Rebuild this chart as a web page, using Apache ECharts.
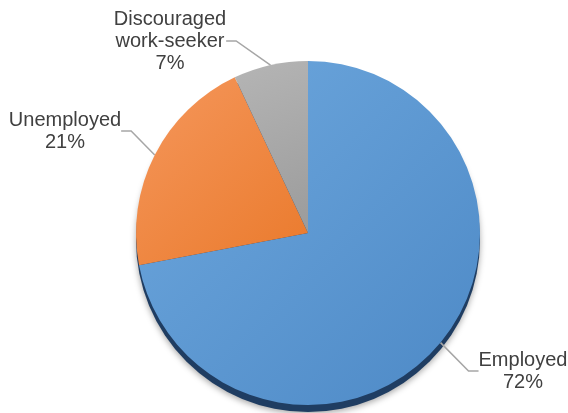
<!DOCTYPE html>
<html><head><meta charset="utf-8">
<script src="https://cdn.jsdelivr.net/npm/echarts@6/dist/echarts.min.js"></script>
<style>html,body{margin:0;padding:0;background:#fff}#c{width:568px;height:413px}</style>
</head><body><div id="c"></div>
<script>
// Data
const categories = ['Employed', 'Unemployed', 'Discouraged\nwork-seeker'];
const values = [72, 21, 7];

// Styles / layout (kept apart from data)
const gradients = [
  ['#6ea8de', '#4d89c6'],
  ['#f5975c', '#ea7a2c'],
  ['#b5b5b5', '#9b9b9b']
];
const labelCenters = [[523, 371], [65, 131], [170, 41]];
const CX = 308, CY = 233, R = 172;

const chart = echarts.init(document.getElementById('c'), null, {renderer: 'canvas'});
const grad = (c) => new echarts.graphic.LinearGradient(0, 0, 1, 1, [
  {offset: 0, color: c[0]}, {offset: 1, color: c[1]}
]);

chart.setOption({
  animation: false,
  backgroundColor: '#ffffff',
  series: [
    {
      type: 'pie', silent: true, z: 1,
      center: [CX, CY + 7], radius: R,
      label: {show: false}, labelLine: {show: false},
      itemStyle: {color: '#1f3d62', shadowColor: 'rgba(0,0,0,0.35)', shadowBlur: 6, shadowOffsetY: 2},
      data: [{value: 1}]
    },
    {
      type: 'pie', z: 2,
      center: [CX, CY], radius: R,
      startAngle: 90, clockwise: true,
      emphasis: {disabled: true},
      itemStyle: {borderWidth: 0},
      data: categories.map((name, i) => ({
        name: name, value: values[i],
        itemStyle: {color: grad(gradients[i])}
      })),
      label: {
        show: true,
        formatter: '{b}\n{d}%',
        fontFamily: 'Liberation Sans, Arial, sans-serif',
        fontSize: 20,
        lineHeight: 22,
        color: '#404040',
        align: 'center',
        overflow: 'none'
      },
      labelLine: {
        show: true,
        length: 22, length2: 10,
        lineStyle: {color: '#a6a6a6', width: 1.5}
      },
      labelLayout: function (p) {
        const c = labelCenters[p.dataIndex];
        return {x: c[0], y: c[1], align: 'center', verticalAlign: 'middle'};
      }
    }
  ]
});
</script>
</body></html>
